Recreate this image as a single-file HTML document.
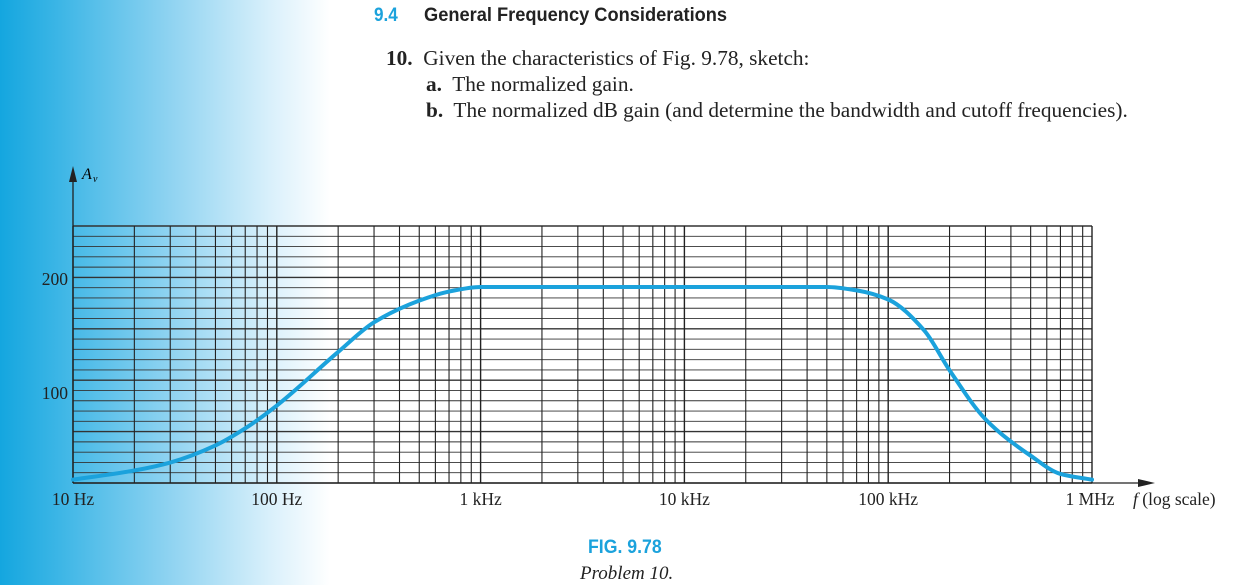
<!DOCTYPE html>
<html><head><meta charset="utf-8"><style>
body{margin:0;width:1242px;height:583px;overflow:hidden;position:relative;font-family:"Liberation Serif",serif;
background:linear-gradient(90deg,#14a6df 0px,#3db6e6 60px,#8fd3f1 170px,#d9f0fb 270px,#fff 330px);}
.t{position:absolute;white-space:nowrap;color:#222}
</style></head><body>
<div class="t" style="left:374px;top:5px;font:bold 19px 'Liberation Sans',sans-serif;color:#1ba2dc;transform:scaleX(.9);transform-origin:left">9.4</div>
<div class="t" style="left:424px;top:5px;font:bold 19px 'Liberation Sans',sans-serif;transform:scaleX(.96);transform-origin:left">General Frequency Considerations</div>
<div class="t" style="left:386px;top:46px;font-size:21.3px"><b>10.</b>&nbsp; Given the characteristics of Fig. 9.78, sketch:</div>
<div class="t" style="left:426px;top:72px;font-size:21.3px"><b>a.</b>&nbsp; The normalized gain.</div>
<div class="t" style="left:426px;top:98px;font-size:21.3px"><b>b.</b>&nbsp; The normalized dB gain (and determine the bandwidth and cutoff frequencies).</div>
<svg id="c" width="1242" height="583" style="position:absolute;left:0;top:0"></svg>
<div class="t" style="left:588px;top:537px;font:bold 19px 'Liberation Sans',sans-serif;color:#1ba2dc;transform:scaleX(.93);transform-origin:left">FIG. 9.78</div>
<div class="t" style="left:580px;top:563px;font-style:italic;font-size:19px">Problem 10.</div>
<script>
const freqs=[10,20,30,50,70,100,200,300,500,700,1000,10000,50000,70000,100000,150000,200000,300000,500000,700000,1000000];
const gains=[24,32,39,54,69,89,136,162,181,189,193,193,193,190,182,155,120,77,45,29,24];
const xTicks=[10,100,1000,10000,100000,1000000];
const xTickLabels=["10 Hz","100 Hz","1 kHz","10 kHz","100 kHz","1 MHz"];
const yTicks=[100,200];
const svg=document.getElementById('c');const NS='http://www.w3.org/2000/svg';
const X=f=>73+(Math.log10(f)-1)*203.8;
const Y=v=>279+(200-v)*1.14;
function el(t,a){const e=document.createElementNS(NS,t);for(const k in a)e.setAttribute(k,a[k]);svg.appendChild(e);return e;}
const gTop=226,gBot=483,gLeft=73,gRight=1092;
for(let i=0;i<=25;i++){const y=gTop+(gBot-gTop)*i/25;const l=el('line',{x1:gLeft,x2:gRight,y1:y,y2:y,stroke:'#333','stroke-width':i%5==0?1.4:0.9});

}
for(let d=1;d<=6;d++)for(let m=1;m<=9;m++){if(d==6&&m>1)break;const x=X(m*Math.pow(10,d));
const l=el('line',{x1:x,x2:x,y1:gTop,y2:gBot,stroke:'#222','stroke-width':m==1?1.4:1.1});

}
const ya=el('line',{x1:gLeft,x2:gLeft,y1:gBot,y2:172,stroke:'#222','stroke-width':1.3});


const yh=el('polygon',{points:`${gLeft-4},182 ${gLeft+4},182 ${gLeft},166`,fill:'#222'});


const xa=el('line',{x1:gLeft,x2:1145,y1:gBot,y2:gBot,stroke:'#222','stroke-width':1.3});


const xh=el('polygon',{points:`1138,479 1138,487 1155,483`,fill:'#222'});


const yl=el('text',{x:82,y:179,'font-size':16,'font-style':'italic','font-family':'Liberation Serif'});yl.textContent='A';


const ys=el('text',{x:93,y:182,'font-size':10,'font-style':'italic','font-family':'Liberation Serif'});ys.textContent='v';


yTicks.forEach(v=>{const t=el('text',{x:68,y:Y(v)+6,'font-size':17.5,'text-anchor':'end','font-family':'Liberation Serif',fill:'#222'});t.textContent=v;

});
xTicks.forEach((f,i)=>{const t=el('text',{x:X(f)+(i==5?-2:0),y:505,'font-size':17.5,'text-anchor':'middle','font-family':'Liberation Serif',fill:'#222'});t.textContent=xTickLabels[i];

});
const xt=el('text',{x:1133,y:505,'font-size':17.5,'font-family':'Liberation Serif',fill:'#222'});xt.innerHTML='<tspan font-style="italic">f</tspan> (log scale)';


// monotone cubic interpolation (Fritsch-Carlson)
const px=freqs.map(X),py=gains.map(Y),n=px.length;
const dl=[],m=[];
for(let i=0;i<n-1;i++)dl.push((py[i+1]-py[i])/(px[i+1]-px[i]));
m[0]=dl[0];m[n-1]=dl[n-2];
for(let i=1;i<n-1;i++){if(dl[i-1]*dl[i]<=0)m[i]=0;else{const w1=2*(px[i+1]-px[i])+(px[i]-px[i-1]),w2=(px[i+1]-px[i])+2*(px[i]-px[i-1]);m[i]=(w1+w2)/(w1/dl[i-1]+w2/dl[i]);}}
let d=`M${px[0]},${py[0]}`;
for(let i=0;i<n-1;i++){const h=px[i+1]-px[i];
d+=` C${px[i]+h/3},${py[i]+m[i]*h/3} ${px[i+1]-h/3},${py[i+1]-m[i+1]*h/3} ${px[i+1]},${py[i+1]}`;}
const c=el('path',{d:d,fill:'none',stroke:'#1ba2dc','stroke-width':4,'stroke-linecap':'round'});


</script>
</body></html>
